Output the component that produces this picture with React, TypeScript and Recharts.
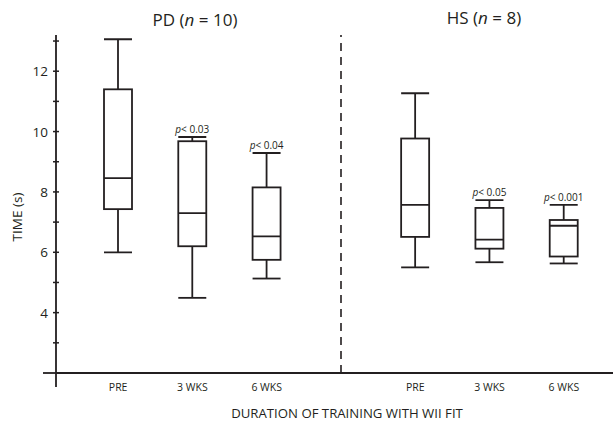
import { ComposedChart, Bar, XAxis, YAxis, ReferenceLine, Label } from "recharts";

// slots along the x axis (the blank one is the gap between the two groups)
const categories = ["PD-PRE", "PD-3", "PD-6", "gap", "HS-PRE", "HS-3", "HS-6"];
const tickLabels = ["PRE", "3 WKS", "6 WKS", "", "PRE", "3 WKS", "6 WKS"];

// box plot statistics, TIME (s)
const whiskerLow = [6.0, 4.49, 5.13, null, 5.5, 5.67, 5.63];
const quartile1 = [7.43, 6.2, 5.75, null, 6.51, 6.12, 5.86];
const medians = [8.46, 7.3, 6.53, null, 7.57, 6.42, 6.88];
const quartile3 = [11.4, 9.68, 8.15, null, 9.77, 7.47, 7.07];
const whiskerHigh = [13.06, 9.82, 9.29, null, 11.27, 7.73, 7.57];
const pValues = ["", "0.03", "0.04", "", "", "0.05", "0.001"];

const yTicks = [2, 3, 4, 5, 6, 7, 8, 9, 10, 11, 12, 13];
const yLabelled = [4, 6, 8, 10, 12];

const INK = "#231f20";
const FONT = "'Open Sans', sans-serif";

const data = categories.map((id, i) => ({
  id,
  label: tickLabels[i],
  low: whiskerLow[i],
  q1: quartile1[i],
  med: medians[i],
  q3: quartile3[i],
  high: whiskerHigh[i],
  p: pValues[i],
  range: whiskerLow[i] == null ? null : [whiskerLow[i], whiskerHigh[i]],
}));

const BoxShape = (props: any) => {
  const { x, y, width, height, payload } = props;
  if (!payload || payload.range == null) return null;
  const { low, q1, med, q3, high, p } = payload;
  // map a value into the bar's pixel span (bar covers low..high)
  const toY = (v: number) => y + ((high - v) / (high - low)) * height;
  const cx = x + width / 2;
  const sw = 1.8;
  return (
    <g stroke={INK} strokeWidth={sw} fill="none">
      <line x1={x} x2={x + width} y1={toY(high)} y2={toY(high)} />
      <line x1={cx} x2={cx} y1={toY(high)} y2={toY(q3)} />
      <rect x={x} y={toY(q3)} width={width} height={toY(q1) - toY(q3)} fill="#fff" />
      <line x1={x} x2={x + width} y1={toY(med)} y2={toY(med)} />
      <line x1={cx} x2={cx} y1={toY(q1)} y2={toY(low)} />
      <line x1={x} x2={x + width} y1={toY(low)} y2={toY(low)} />
      {p && (
        <text
          x={cx}
          y={toY(high) - 4}
          textAnchor="middle"
          fontSize={10}
          fontFamily={FONT}
          fill={INK}
          stroke="none"
        >
          <tspan fontStyle="italic">p</tspan>
          <tspan>{`< ${p}`}</tspan>
        </text>
      )}
    </g>
  );
};

const XTick = (props: any) => {
  const { x, y, payload } = props;
  const row = data.find((d) => d.id === payload.value);
  return (
    <text x={x} y={y + 18} textAnchor="middle" fontSize={10.5} fontFamily={FONT} fill={INK}>
      {row ? row.label : ""}
    </text>
  );
};

const YTick = (props: any) => {
  const { x, y, payload } = props;
  const v = payload.value;
  if (v === 2) {
    return (
      <g stroke={INK} strokeWidth={1.8}>
        <line x1={x - 13} x2={x} y1={y} y2={y} />
        <line x1={x} x2={x} y1={y} y2={y + 14} />
      </g>
    );
  }
  return (
    <g>
      <line x1={x - 3} x2={x + 3} y1={y} y2={y} stroke={INK} strokeWidth={1.5} />
      {yLabelled.includes(v) && (
        <text x={x - 8} y={y + 5} textAnchor="end" fontSize={13.5} fontFamily={FONT} fill={INK}>
          {v}
        </text>
      )}
    </g>
  );
};

export default function App() {
  return (
    <div style={{ position: "absolute", left: 0, top: 0, background: "#fff" }}>
      <ComposedChart
        width={613}
        height={422}
        data={data}
        margin={{ top: 35, right: 0, bottom: 0, left: 0 }}
      >
        <XAxis
          dataKey="id"
          type="category"
          height={49}
          interval={0}
          padding={{ left: 25, right: 12 }}
          tickLine={false}
          tickSize={0}
          tickMargin={0}
          axisLine={{ stroke: INK, strokeWidth: 1.8 }}
          tick={<XTick />}
        >
          <Label
            content={() => (
              <text x={347} y={418} textAnchor="middle" fontSize={13.2} fontFamily={FONT} fill={INK}>
                DURATION OF TRAINING WITH WII FIT
              </text>
            )}
          />
        </XAxis>
        <YAxis
          type="number"
          domain={[2, 13.2]}
          ticks={yTicks}
          interval={0}
          width={56}
          allowDataOverflow
          tickLine={false}
          tickSize={0}
          tickMargin={0}
          axisLine={{ stroke: INK, strokeWidth: 1.8 }}
          tick={<YTick />}
        >
          <Label
            content={() => (
              <text
                x={22}
                y={217}
                transform="rotate(-90 22 217)"
                textAnchor="middle"
                fontSize={13.5}
                fontFamily={FONT}
                fill={INK}
              >
                TIME (s)
              </text>
            )}
          />
        </YAxis>
        <ReferenceLine x="gap" stroke={INK} strokeWidth={1.6} strokeDasharray="8 6" />
        <Bar dataKey="range" barSize={28} isAnimationActive={false} shape={BoxShape} />
        <text x={195} y={26} textAnchor="middle" fontSize={17} fontFamily={FONT} fill={INK}>
          PD (<tspan fontStyle="italic">n</tspan> = 10)
        </text>
        <text x={484} y={24} textAnchor="middle" fontSize={17} fontFamily={FONT} fill={INK}>
          HS (<tspan fontStyle="italic">n</tspan> = 8)
        </text>
      </ComposedChart>
    </div>
  );
}
